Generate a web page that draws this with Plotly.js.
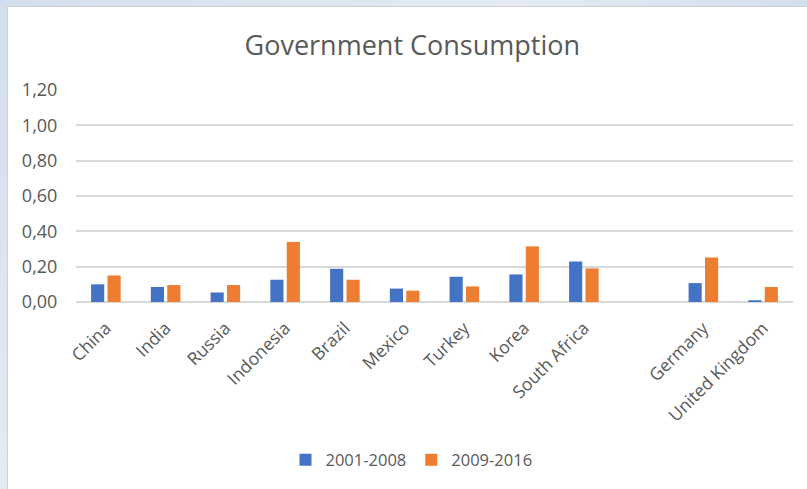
<!DOCTYPE html>
<html>
<head>
<meta charset="utf-8">
<script src="https://cdn.plot.ly/plotly-3.0.1.min.js"></script>
<style>
  html, body { margin:0; padding:0; width:807px; height:489px; overflow:hidden;
    background: linear-gradient(135deg, #d3dfec 0%, #e4ebf4 40%, #cddbea 70%, #e2eaf3 100%); }
  #frame { position:absolute; left:7px; top:6px; width:800px; height:483px;
    border-left:1px solid #d0d0d0; border-top:1px solid #d0d0d0; background:#fff; }
  #chart { position:absolute; left:0; top:0; width:799px; height:482px; }
</style>
</head>
<body>
<div id="frame"><div id="chart"></div></div>
<script>
const categories = ["China","India","Russia","Indonesia","Brazil","Mexico","Turkey","Korea","South Africa"," ","Germany","United Kingdom"];
const series1Name = "2001-2008";
const series2Name = "2009-2016";
const series1 = [0.10, 0.085, 0.054, 0.126, 0.188, 0.076, 0.143, 0.156, 0.229, null, 0.107, 0.01];
const series2 = [0.15, 0.096, 0.096, 0.34, 0.126, 0.064, 0.088, 0.315, 0.19, null, 0.252, 0.085];
const yTicks = [0, 0.2, 0.4, 0.6, 0.8, 1.0, 1.2];

const font = "'Open Sans', 'Noto Sans', sans-serif";
const textColor = "#595959";

const traces = [
  { type:"bar", name:series1Name, x:categories, y:series1, marker:{color:"#4472C4"}, hoverinfo:"x+y" },
  { type:"bar", name:series2Name, x:categories, y:series2, marker:{color:"#ED7D31"}, hoverinfo:"x+y" }
];

const layout = {
  width:799, height:482,
  paper_bgcolor:"#ffffff", plot_bgcolor:"#ffffff",
  margin:{l:68, r:14, t:83, b:187},
  separators:", ",
  barmode:"group", bargap:0.45, bargroupgap:0.2,
  font:{family:font, color:textColor, size:16},
  title:{text:"Government Consumption", font:{family:font, size:27, color:textColor},
    xref:"container", x:0.506, xanchor:"center", yref:"container", y:0.921, yanchor:"middle"},
  xaxis:{type:"category", tickangle:-45, tickfont:{size:17.5, color:textColor},
    showgrid:false, showline:false, zeroline:false, ticks:"outside", ticklen:8, tickcolor:"rgba(0,0,0,0)", automargin:false},
  yaxis:{range:[0,1.2], tickvals:yTicks, tickformat:".2f", tickfont:{size:18, color:textColor},
    showgrid:true, gridcolor:"#d9d9d9", gridwidth:2, zeroline:true, zerolinecolor:"#d9d9d9", zerolinewidth:2,
    showline:false, ticks:"outside", ticklen:14, tickcolor:"rgba(0,0,0,0)", automargin:false, fixedrange:true},
  showlegend:true,
  legend:{orientation:"h", xref:"container", yref:"container", x:0.505, xanchor:"center", y:0.06, yanchor:"middle",
    font:{size:16.5, color:textColor}, itemwidth:30, traceorder:"normal"}
};

Plotly.newPlot("chart", traces, layout, {displayModeBar:false, staticPlot:true});
</script>
</body>
</html>
